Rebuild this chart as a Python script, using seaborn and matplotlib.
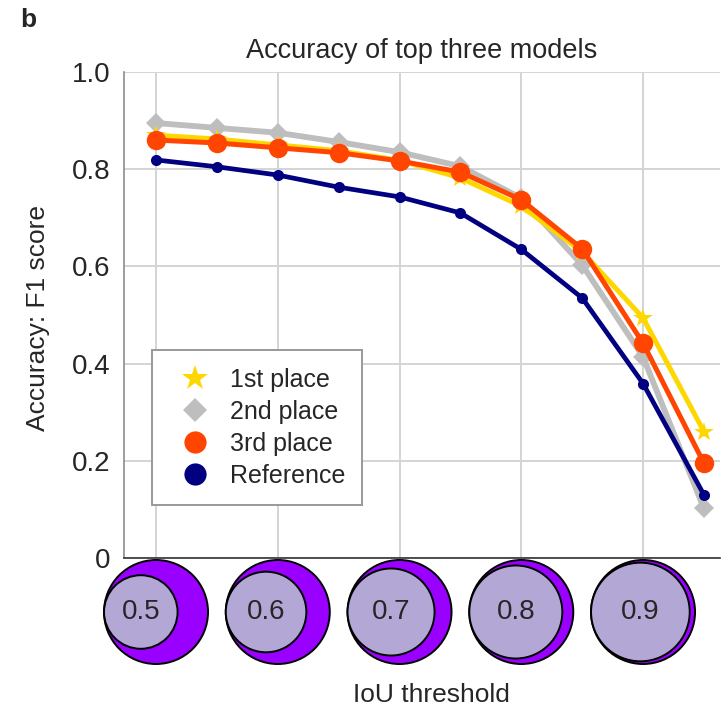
import numpy as np
import pandas as pd
import matplotlib.pyplot as plt
import seaborn as sns
from matplotlib.patches import Circle
from matplotlib.lines import Line2D

iou = [0.50, 0.55, 0.60, 0.65, 0.70, 0.75, 0.80, 0.85, 0.90, 0.95]
first_place = [0.870, 0.862, 0.850, 0.838, 0.818, 0.782, 0.724, 0.630, 0.494, 0.260]
second_place = [0.895, 0.885, 0.875, 0.856, 0.835, 0.806, 0.740, 0.603, 0.414, 0.102]
third_place = [0.860, 0.854, 0.844, 0.834, 0.817, 0.794, 0.737, 0.636, 0.442, 0.195]
reference = [0.819, 0.805, 0.788, 0.763, 0.743, 0.710, 0.635, 0.535, 0.359, 0.130]

circle_thresholds = [0.5, 0.6, 0.7, 0.8, 0.9]

df = pd.DataFrame({
    'IoU': iou * 4,
    'F1': first_place + second_place + third_place + reference,
    'Model': ['1st place'] * 10 + ['2nd place'] * 10 + ['3rd place'] * 10 + ['Reference'] * 10,
})

sns.set_style("whitegrid")
plt.rcParams['font.family'] = ['Liberation Sans', 'DejaVu Sans']

fig = plt.figure(figsize=(7.27, 7.11), dpi=100)
ax = fig.add_axes([124 / 727, 1 - 558 / 711, 596 / 727, 486 / 711])

# draw order: gray under yellow under orange, navy on top
styles = {
    '2nd place': dict(color='#bebebe', marker='D', markersize=10, lw=4.2, zorder=2),
    '1st place': dict(color='#ffd700', marker='*', markersize=15, lw=3.6, zorder=3),
    '3rd place': dict(color='#ff4500', marker='o', markersize=14, lw=3.6, zorder=4),
    'Reference': dict(color='#000080', marker='o', markersize=8, lw=3.4, zorder=5),
}
for name, st in styles.items():
    sns.lineplot(data=df[df['Model'] == name], x='IoU', y='F1', ax=ax,
                 color=st['color'], marker=st['marker'], markersize=st['markersize'],
                 markeredgewidth=0, linewidth=st['lw'], zorder=st['zorder'], legend=False)

ax.set_xlim(0.4737, 0.9632)
ax.set_ylim(0, 1.0)
ax.set_xticks(circle_thresholds)
ax.set_xticklabels([])
ax.set_yticks([0, 0.2, 0.4, 0.6, 0.8, 1.0])
ax.set_yticklabels(['0', '0.2', '0.4', '0.6', '0.8', '1.0'], fontsize=20)
ax.tick_params(axis='both', length=0, pad=10)
ax.grid(True, color='#d4d4d4', linewidth=1.4)
ax.set_xlabel('')
ax.set_ylabel('')
ax.spines['top'].set_visible(False)
ax.spines['right'].set_visible(False)
ax.spines['left'].set_color('#8c8c8c')
ax.spines['left'].set_linewidth(1.2)
ax.spines['bottom'].set_color('#333333')
ax.spines['bottom'].set_linewidth(1.2)
ax.set_title('Accuracy of top three models', fontsize=19.5, pad=10)

handles = [
    Line2D([], [], linestyle='none', marker='*', color='#ffd700', markersize=19, markeredgewidth=0),
    Line2D([], [], linestyle='none', marker='D', color='#bebebe', markersize=12, markeredgewidth=0),
    Line2D([], [], linestyle='none', marker='o', color='#ff4500', markersize=16, markeredgewidth=0),
    Line2D([], [], linestyle='none', marker='o', color='#000080', markersize=16, markeredgewidth=0),
]
leg = ax.legend(handles, ['1st place', '2nd place', '3rd place', 'Reference'],
                loc='lower left', bbox_to_anchor=(0.047, 0.109), fontsize=18,
                frameon=True, fancybox=False, framealpha=1, edgecolor='#999999',
                borderpad=0.7, labelspacing=0.32, handletextpad=0.4, borderaxespad=0,
                handlelength=2.0)
leg.get_frame().set_linewidth(1.4)
leg.set_zorder(10)

# IoU illustrations under the x axis
cax = fig.add_axes([124 / 727, 1 - 675 / 711, 596 / 727, 120 / 711])
px_per_unit = 596 / (0.9632 - 0.4737)
cax.set_xlim(0.4737, 0.9632)
cax.set_ylim(0, 120 / px_per_unit)
cax.axis('off')
R = 52 / px_per_unit
cy = 63 / px_per_unit
for t in circle_thresholds:
    r = R * np.sqrt(t)
    cax.add_patch(Circle((t, cy), R, facecolor='#9900ff', edgecolor='black', lw=1.4, clip_on=False))
    cax.add_patch(Circle((t - (R - r), cy), r, facecolor='#b3a7d6', edgecolor='black', lw=1.4,
                         clip_on=False))
    cax.text(t - (R - r), cy, f'{t:.1f}', ha='center', va='center', fontsize=20, clip_on=False)

fig.text(0.028, 0.972, 'b', fontsize=19, fontweight='bold', ha='left', va='center')
fig.text(431 / 727, 1 - 695 / 711, 'IoU threshold', fontsize=19, ha='center', va='center')
fig.text(38 / 727, 1 - 318 / 711, 'Accuracy: F1 score', fontsize=19, rotation=90,
         ha='center', va='center')

plt.savefig('out.png', dpi=100)
